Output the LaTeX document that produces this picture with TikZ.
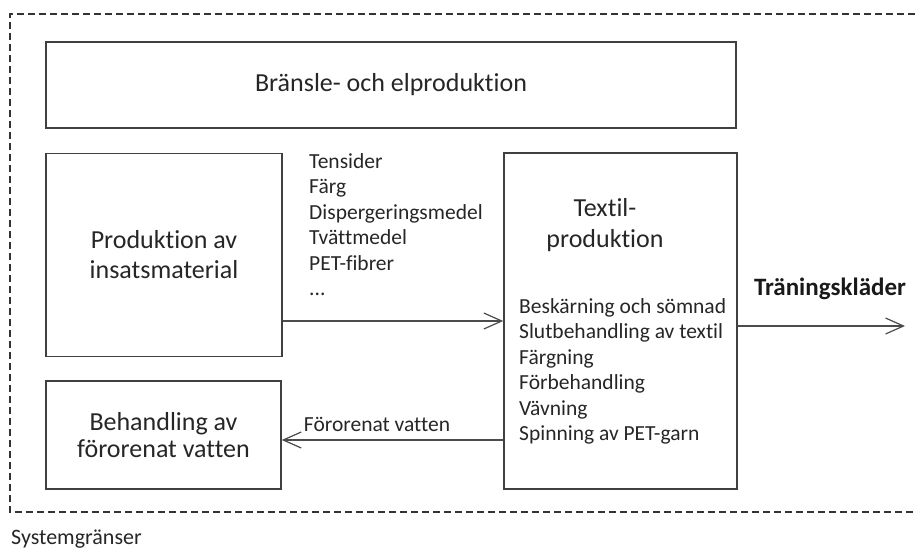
\documentclass[tikz,border=0pt]{standalone}
\usepackage{fontspec}
\setmainfont{Carlito}[Ligatures={NoCommon}]
\usepackage{tikz}
\usepackage{xcolor}
\usetikzlibrary{arrows.meta}

\newcommand{\stor}{\fontsize{26}{31}\selectfont}
\newcommand{\liten}{\fontsize{21.5}{25.5}\selectfont}

\begin{document}
\begin{tikzpicture}[x=1pt,y=-1pt,
    box/.style={draw=black!75,line width=1.5pt,inner sep=0pt,align=center,text=black!85,font=\stor},
    flow/.style={draw=black!70,line width=1.2pt,-{Straight Barb[length=18pt,width=16pt,line width=1.2pt]}},
    lista/.style={inner sep=0pt,align=left,anchor=north west,text=black!85,font=\liten}]
    \useasboundingbox (0,0) rectangle (915,552);
    \draw[black!80,line width=1.2pt,dash pattern=on 7pt off 4pt] (915,14) -- (10,14) -- (10,512) -- (915,512);
    \node[box,minimum width=690pt,minimum height=86pt] (energi) at (391,85) {Bränsle- och elproduktion};
    \node[box,minimum width=236pt,minimum height=203pt] (insats) at (164,255)
        {Produktion av\\[-1pt] insatsmaterial};
    \node[box,minimum width=233pt,minimum height=336pt] (textil) at (620.5,321) {};
    \node[box,minimum width=235pt,minimum height=108pt,font=\fontsize{26}{27}\selectfont] (vatten) at (163.5,435)
        {Behandling av\\ förorenat vatten};
    \node[inner sep=0pt,align=center,text=black!85,font=\stor] (rubrik) at (605,225)
        {Textil-\\ produktion};
    \node[lista] (steg) at (519,298) {Beskärning och sömnad\\ Slutbehandling av textil\\ Färgning\\
        Förbehandling\\ Vävning\\ Spinning av PET-garn};
    \node[lista] (insatser) at (309,153) {Tensider\\ Färg\\ Dispergeringsmedel\\ Tvättmedel\\ PET-fibrer\\ ...};
    \coordinate (ut) at (905,326);
    \draw[flow] (insats.east |- textil.west) -- (textil.west);
    \draw[flow] (textil.east |- ut) -- (ut);
    \draw[flow] ([yshift=-5pt]textil.west |- vatten.east) -- ([yshift=-5pt]vatten.east)
        node[pos=0.57,above=4pt,text=black!85,font=\liten] (smuts) {Förorenat vatten};
    \node[text=black!90,font=\bfseries\fontsize{25}{30}\selectfont] (produkt) at (830,289) {Träningskläder};
    \node[anchor=west,inner sep=0pt,text=black!85,font=\fontsize{22}{26}\selectfont] (grans) at (11,539) {Systemgränser};
\end{tikzpicture}
\end{document}
